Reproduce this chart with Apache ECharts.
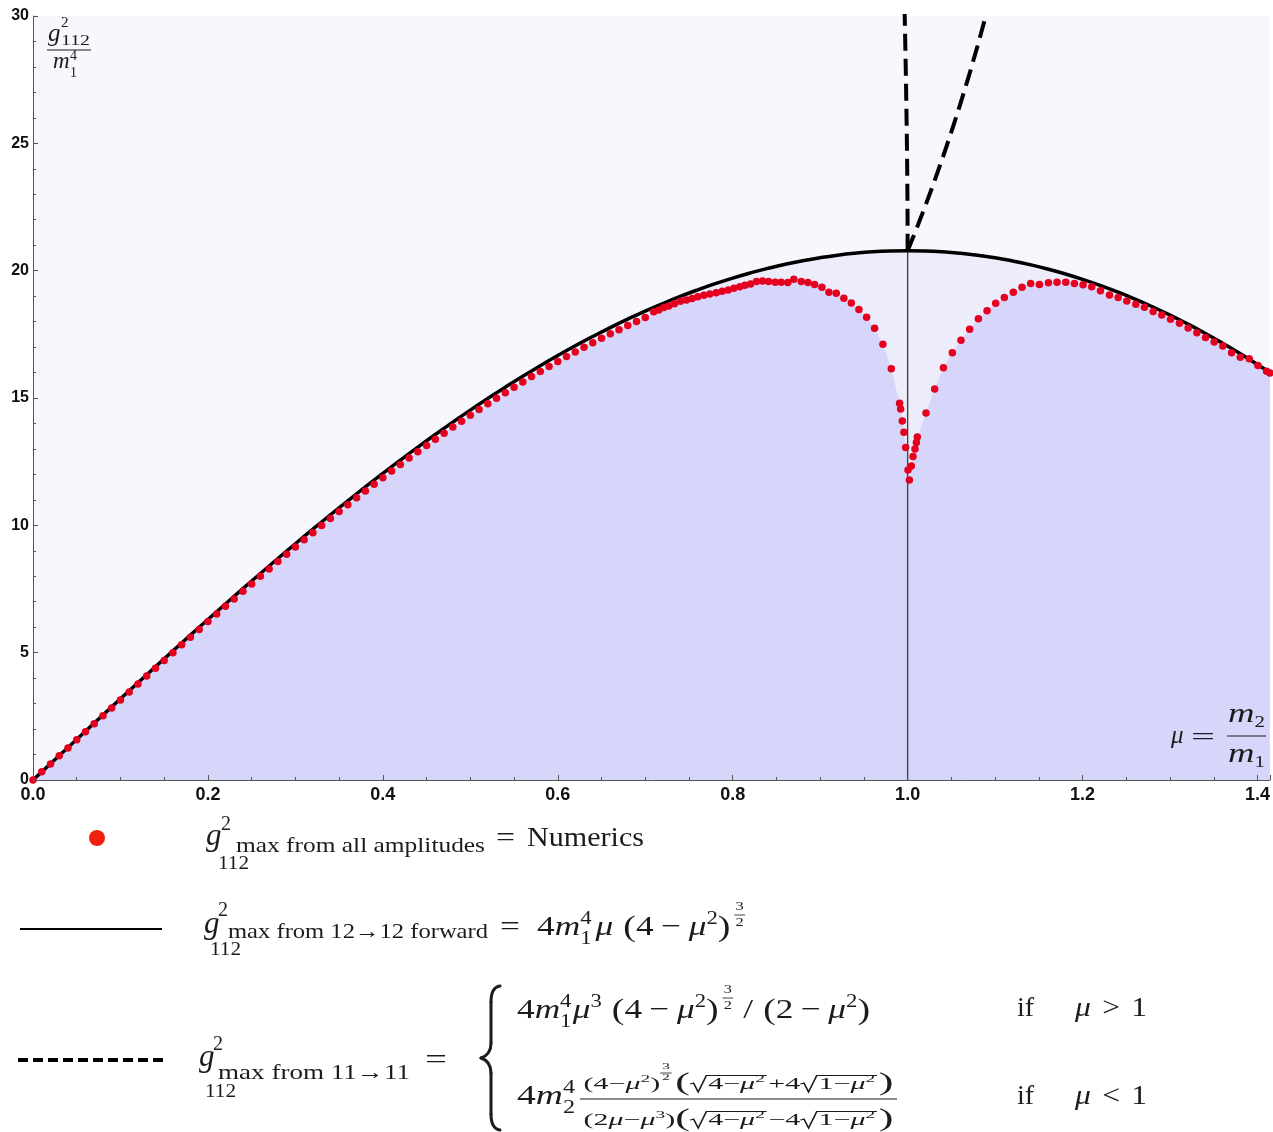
<!DOCTYPE html>
<html>
<head>
<meta charset="utf-8">
<script src="https://cdn.jsdelivr.net/npm/echarts@6/dist/echarts.min.js"></script>
<style>
  html, body { margin: 0; padding: 0; background: #ffffff; }
  #chart { width: 1273px; height: 1132px; }
</style>
</head>
<body>
<div id="chart"></div>
<script>
// ---- numerical bound: g^2_112 max from all amplitudes ----
const muNumerics = [
  0, 0.01, 0.02, 0.03, 0.04, 0.05, 0.06, 0.07, 0.08, 0.09,
  0.10, 0.11, 0.12, 0.13, 0.14, 0.15, 0.16, 0.17, 0.18, 0.19,
  0.20, 0.21, 0.22, 0.23, 0.24, 0.25, 0.26, 0.27, 0.28, 0.29,
  0.30, 0.31, 0.32, 0.33, 0.34, 0.35, 0.36, 0.37, 0.38, 0.39,
  0.40, 0.41, 0.42, 0.43, 0.44, 0.45, 0.46, 0.47, 0.48, 0.49,
  0.50, 0.51, 0.52, 0.53, 0.54, 0.55, 0.56, 0.57, 0.58, 0.59,
  0.60, 0.61, 0.62, 0.63, 0.64, 0.65, 0.66, 0.67, 0.68, 0.69,
  0.70, 0.7097, 0.7154, 0.7212, 0.7269, 0.7334, 0.7403, 0.7471, 0.7536, 0.7601,
  0.7670, 0.7738, 0.7811, 0.7880, 0.7948, 0.8013, 0.8081, 0.8140, 0.8204, 0.8272,
  0.8341, 0.8410, 0.8486, 0.8555, 0.8630, 0.8699, 0.8784, 0.8860, 0.8936, 0.9020,
  0.9100, 0.9184, 0.9271, 0.9356, 0.9443, 0.9531, 0.9622, 0.9717, 0.9813, 0.9908,
  0.9920, 0.9939, 0.9958, 0.9977, 1.0004, 1.0020, 1.0042, 1.0061, 1.0084, 1.0100,
  1.0111, 1.0210, 1.0309, 1.0409, 1.0511, 1.0610, 1.0709, 1.0809, 1.0908, 1.1007,
  1.1106, 1.1208, 1.1308, 1.1407, 1.1507, 1.1610, 1.1708, 1.1808, 1.1907, 1.2006,
  1.2105, 1.2205, 1.2308, 1.2407, 1.2506, 1.2609, 1.2708, 1.2807, 1.2906, 1.3006,
  1.3108, 1.3207, 1.3307, 1.3406, 1.3505, 1.3604, 1.3704, 1.3803, 1.3906, 1.4005,
  1.4104, 1.4142
];
const gNumerics = [
  0, 0.32, 0.63, 0.95, 1.26, 1.58, 1.89, 2.21, 2.52, 2.83,
  3.14, 3.46, 3.77, 4.08, 4.39, 4.69, 5.00, 5.31, 5.61, 5.91,
  6.22, 6.52, 6.82, 7.11, 7.41, 7.70, 8.00, 8.29, 8.58, 8.86,
  9.15, 9.43, 9.71, 9.99, 10.27, 10.54, 10.81, 11.08, 11.35, 11.61,
  11.87, 12.13, 12.39, 12.64, 12.89, 13.13, 13.38, 13.62, 13.86, 14.09,
  14.32, 14.55, 14.77, 14.99, 15.21, 15.42, 15.63, 15.84, 16.04, 16.24,
  16.43, 16.63, 16.81, 16.99, 17.17, 17.35, 17.52, 17.68, 17.85, 18.00,
  18.16, 18.39, 18.46, 18.55, 18.61, 18.70, 18.80, 18.85, 18.91, 18.98,
  19.03, 19.08, 19.13, 19.19, 19.24, 19.31, 19.37, 19.43, 19.48, 19.57,
  19.59, 19.57, 19.55, 19.55, 19.54, 19.66, 19.57, 19.54, 19.46, 19.35,
  19.15, 19.11, 18.92, 18.73, 18.48, 18.17, 17.74, 17.11, 16.15, 14.79,
  14.57, 14.10, 13.66, 13.06, 12.17, 11.78, 12.33, 12.70, 13.00, 13.25,
  13.47, 14.41, 15.35, 16.19, 16.78, 17.27, 17.70, 18.11, 18.43, 18.72,
  18.95, 19.15, 19.35, 19.50, 19.46, 19.53, 19.55, 19.55, 19.50, 19.45,
  19.37, 19.21, 19.04, 18.95, 18.81, 18.68, 18.56, 18.40, 18.26, 18.09,
  17.94, 17.75, 17.56, 17.38, 17.20, 17.04, 16.78, 16.60, 16.54, 16.28,
  16.05, 15.98
];

// ---- bound from 12 -> 12 forward scattering ----
const muForward = [
  0, 0.02, 0.04, 0.06, 0.08, 0.10, 0.12, 0.14, 0.16, 0.18,
  0.20, 0.22, 0.24, 0.26, 0.28, 0.30, 0.32, 0.34, 0.36, 0.38,
  0.40, 0.42, 0.44, 0.46, 0.48, 0.50, 0.52, 0.54, 0.56, 0.58,
  0.60, 0.62, 0.64, 0.66, 0.68, 0.70, 0.72, 0.74, 0.76, 0.78,
  0.80, 0.82, 0.84, 0.86, 0.88, 0.90, 0.92, 0.94, 0.96, 0.98,
  1.00, 1.02, 1.04, 1.06, 1.08, 1.10, 1.12, 1.14, 1.16, 1.18,
  1.20, 1.22, 1.24, 1.26, 1.28, 1.30, 1.32, 1.34, 1.36, 1.38,
  1.40, 1.41421
];
const gForward = [
  0, 0.640, 1.279, 1.917, 2.554, 3.188, 3.819, 4.447, 5.071, 5.690,
  6.304, 6.913, 7.515, 8.110, 8.698, 9.278, 9.849, 10.412, 10.965, 11.507,
  12.040, 12.561, 13.070, 13.567, 14.052, 14.524, 14.981, 15.425, 15.855, 16.268,
  16.667, 17.050, 17.416, 17.766, 18.098, 18.413, 18.709, 18.988, 19.247, 19.488,
  19.709, 19.910, 20.091, 20.252, 20.392, 20.511, 20.609, 20.685, 20.741, 20.774,
  20.785, 20.774, 20.740, 20.684, 20.606, 20.505, 20.381, 20.235, 20.067, 19.875,
  19.661, 19.424, 19.165, 18.884, 18.581, 18.257, 17.910, 17.543, 17.154, 16.746,
  16.317, 16.000
];

// ---- bound from 11 -> 11, the two branches (mu < 1 and mu > 1) ----
const muElasticBelow = [1.0, 0.9999, 0.9998, 0.9995, 0.999, 0.998, 0.997, 0.9965];
const gElasticBelow  = [20.785, 22.18, 22.78, 24.01, 25.47, 27.66, 29.47, 30.29];
const muElasticAbove = [1.00, 1.01, 1.02, 1.03, 1.04, 1.05, 1.06, 1.07, 1.08, 1.09, 1.10];
const gElasticAbove  = [20.785, 21.634, 22.523, 23.452, 24.426, 25.447, 26.519, 27.646, 28.832, 30.084, 31.406];

// mass-degenerate point mu = 1
const muDegenerate = [1.0, 1.0];
const gDegenerate  = [0, 20.785];

// axis ranges and ticks
const xRange = [0, 1.41421];
const xStep = 0.2;
const yRange = [0, 30];
const yStep = 5;

const zip = (xs, ys) => xs.map((x, i) => [x, ys[i]]);

// ---------- small math-typesetting helper for the annotations ----------
const SERIF = '"Liberation Serif", "DejaVu Serif", serif';
const INK = '#1b1b1b';
const TOP_Z = 50;
const mctx = document.createElement('canvas').getContext('2d');
const MID = 0.34;                       // em-middle to alphabetic baseline
function fontStr(s, it) { return (it ? 'italic ' : '') + s + 'px ' + SERIF; }
function textW(t, s, it) { mctx.font = fontStr(s, it); return mctx.measureText(t).width; }
function T(t, s, i, r) { return { t: t, s: s, i: !!i, r: r || 0 }; }

function textEl(x, base, t, s, it) {
  return {
    type: 'text', x: x, y: base - MID * s, silent: true, z: TOP_Z,
    style: {
      x: 0, y: 0, text: t, font: fontStr(s, it), fill: INK, textFill: INK,
      align: 'left', verticalAlign: 'middle', textAlign: 'left', textVerticalAlign: 'middle'
    }
  };
}

function lay(x, base, parts, out) {
  let cx = x;
  for (const p of parts) {
    if (typeof p === 'number') { cx += p; continue; }
    if (p.sq) {                              // radical with overline
      const s = p.s, h = s * 0.86, sw = s * 0.55;
      const x0 = cx;
      const end = lay(cx + sw + 1, base, p.sq, out);
      out.push({
        type: 'polyline', silent: true, z: TOP_Z,
        shape: { points: [[x0, base - h * 0.40], [x0 + sw * 0.22, base - h * 0.48],
                          [x0 + sw * 0.50, base + s * 0.12], [x0 + sw, base - h], [end + 1, base - h]] },
        style: { stroke: INK, fill: null, lineWidth: 1 }
      });
      cx = end + 2;
      continue;
    }
    if (p.st) {                              // stacked super/subscripts
      let w = 0;
      for (const [sub, r] of p.st) { w = Math.max(w, lay(cx, base - r, sub, out) - cx); }
      cx += w;
      continue;
    }
    if (p.fr) {                              // fraction
      const nw = lay(0, 0, p.fr[0], []), dw = lay(0, 0, p.fr[1], []);
      const pad = p.pad == null ? 2 : p.pad;
      const w = Math.max(nw, dw) + pad * 2;
      lay(cx + (w - nw) / 2, base - p.nr, p.fr[0], out);
      lay(cx + (w - dw) / 2, base + p.dr, p.fr[1], out);
      const by = base - p.by;
      out.push({ type: 'line', silent: true, z: TOP_Z, shape: { x1: cx, y1: by, x2: cx + w, y2: by },
                 style: { stroke: INK, lineWidth: p.lw || 1 } });
      cx += w;
      continue;
    }
    out.push(textEl(cx, base - p.r, p.t, p.s, p.i));
    cx += textW(p.t, p.s, p.i);
  }
  return cx;
}

function expr(x, base, parts, targetW) {
  const kids = [];
  const w = lay(0, base, parts, kids);
  return { type: 'group', x: x, y: 0, z: TOP_Z, scaleX: targetW ? targetW / w : 1, silent: true, children: kids };
}
function hline(x1, x2, y, w, dash, color) {
  return { type: 'line', silent: true, z: TOP_Z, shape: { x1: x1, y1: y, x2: x2, y2: y },
           style: { stroke: color || '#000', lineWidth: w, lineDash: dash || null } };
}
const threeHalves = (s, nr, by, dr) => ({ fr: [[T('3', s)], [T('2', s)]], nr: nr, by: by, dr: dr, pad: 1, lw: 0.8 });
const sqrtOf = (a, s) => ({ sq: [T(a, s), T('\u2212', s), T('\u03bc', s, true), T('2', Math.round(s * 0.65), false, s * 0.42)], s: s });

// ---------- annotation graphics ----------
const G = [];

// quantity on the vertical axis: g^2_112 / m_1^4
G.push(expr(48, 43, [T('g', 25, true)]));
G.push(expr(61, 28, [T('2', 15)]));
G.push(expr(61, 46, [T('112', 15)], 29));
G.push(hline(47, 91, 50, 1, null, INK));
G.push(expr(53, 70, [T('m', 23, true)]));
G.push(expr(70, 61, [T('4', 14)]));
G.push(expr(70, 78, [T('1', 14)]));

// horizontal variable: mu = m2 / m1
G.push(expr(1171, 745, [T('\u03bc', 25, true)]));
G.push(expr(1191, 747, [T('=', 25)], 24));
G.push(expr(1228, 724, [T('m', 28, true), T('2', 16, false, -4)], 37));
G.push(hline(1227, 1266, 736, 1, null, INK));
G.push(expr(1228, 764, [T('m', 28, true), T('1', 16, false, -4)], 37));

// legend row 1: numerics
G.push({ type: 'circle', silent: true, z: TOP_Z, shape: { cx: 97, cy: 838, r: 8 }, style: { fill: '#f0200f' } });
G.push(expr(206, 847, [T('g', 31, true)]));
G.push(expr(221, 832, [T('2', 20)]));
G.push(expr(218, 870, [T('112', 19)], 31));
G.push(expr(236, 854, [T('max from all amplitudes', 21)], 249));
G.push(expr(496, 848, [T('=', 28)], 19));
G.push(expr(527, 848, [T('Numerics', 28)], 117));

// legend row 2: 12 -> 12 forward
G.push(hline(20, 162, 929, 2));
G.push(expr(204, 935, [T('g', 31, true)]));
G.push(expr(218, 918, [T('2', 20)]));
G.push(expr(210, 956, [T('112', 19)], 31));
G.push(expr(228, 940, [T('max from 12\u219212 forward', 21)], 260));
G.push(expr(500, 937, [T('=', 28)], 20));
G.push(expr(537, 937, [
  T('4', 28), T('m', 28, true), { st: [[[T('4', 18)], 12], [[T('1', 18)], -8]] }, 3,
  T('\u03bc', 28, true), 8, T('(', 30, false, -1), T('4', 28), 6, T('\u2212', 28), 6,
  T('\u03bc', 28, true), T('2', 18, false, 12), T(')', 30, false, -1), 3, threeHalves(13, 26, 22, -10)
], 208));

// legend row 3: 11 -> 11, piecewise
G.push(hline(18, 163, 1060, 4, [10, 5]));
G.push(expr(199, 1068, [T('g', 31, true)]));
G.push(expr(213, 1052, [T('2', 20)]));
G.push(expr(205, 1098, [T('112', 19)], 31));
G.push(expr(218, 1081, [T('max from 11\u219211', 21)], 192));
G.push(expr(425, 1070, [T('=', 28)], 22));

// large brace
const braceStyle = { stroke: INK, lineWidth: 3, fill: null, lineCap: 'round' };
const braceSegs = [
  { type: 'bezierCurve', shape: { x1: 500, y1: 986, cpx1: 493, cpy1: 987, cpx2: 491, cpy2: 993, x2: 491, y2: 1002 } },
  { type: 'line', shape: { x1: 491, y1: 1002, x2: 491, y2: 1043 } },
  { type: 'bezierCurve', shape: { x1: 491, y1: 1043, cpx1: 491, cpy1: 1052, cpx2: 487, cpy2: 1056, x2: 481, y2: 1058 } },
  { type: 'bezierCurve', shape: { x1: 481, y1: 1058, cpx1: 487, cpy1: 1060, cpx2: 491, cpy2: 1064, x2: 491, y2: 1073 } },
  { type: 'line', shape: { x1: 491, y1: 1073, x2: 491, y2: 1114 } },
  { type: 'bezierCurve', shape: { x1: 491, y1: 1114, cpx1: 491, cpy1: 1123, cpx2: 493, cpy2: 1129, x2: 500, y2: 1130 } }
];
braceSegs.forEach(seg => G.push(Object.assign({ silent: true, z: TOP_Z, style: braceStyle }, seg)));

// case mu > 1
G.push(expr(517, 1020, [
  T('4', 28), T('m', 28, true), { st: [[[T('4', 18)], 12], [[T('1', 18)], -8]] }, 1,
  T('\u03bc', 28, true), T('3', 18, false, 12), 8, T('(', 30, false, -1), T('4', 28), 6, T('\u2212', 28), 6,
  T('\u03bc', 28, true), T('2', 18, false, 12), T(')', 30, false, -1), 3, threeHalves(13, 26, 22, -10), 8,
  T('/', 28), 8, T('(', 30, false, -1), T('2', 28), 6, T('\u2212', 28), 6, T('\u03bc', 28, true),
  T('2', 18, false, 12), T(')', 30, false, -1)
], 353));
G.push(expr(1017, 1018, [T('if', 28)]));
G.push(expr(1075, 1018, [T('\u03bc', 28, true), 10, T('>', 28), 10, T('1', 28)], 72));

// case mu < 1
const num = [
  T('(', 17), T('4', 17), T('\u2212', 17), T('\u03bc', 17, true), T('2', 11, false, 7), T(')', 17),
  threeHalves(9, 20, 17, -9), 2,
  T('(', 25, false, -2), sqrtOf('4', 17), T('+', 17), T('4', 17), sqrtOf('1', 17), T(')', 25, false, -2)
];
const den = [
  T('(', 17), T('2', 17), T('\u03bc', 17, true), T('\u2212', 17), T('\u03bc', 17, true), T('3', 11, false, 7), T(')', 17),
  T('(', 25, false, -2), sqrtOf('4', 17), T('\u2212', 17), T('4', 17), sqrtOf('1', 17), T(')', 25, false, -2)
];
G.push(expr(517, 1106, [T('4', 28), T('m', 28, true), { st: [[[T('4', 18)], 12], [[T('2', 18)], -8]] }], 58));
G.push(expr(580, 1106, [{ fr: [num, den], nr: 16, by: 7, dr: 20, pad: 2, lw: 1 }], 317));
G.push(expr(1017, 1106, [T('if', 28)]));
G.push(expr(1075, 1106, [T('\u03bc', 28, true), 10, T('<', 28), 10, T('1', 28)], 72));

// ---------- chart ----------
const chart = echarts.init(document.getElementById('chart'), null, { renderer: 'canvas' });
const axisInk = '#555555';
const labelBase = { fontFamily: '"Liberation Sans", Arial, sans-serif', fontWeight: 'bold', color: '#111111' };

chart.setOption({
  animation: false,
  backgroundColor: '#ffffff',
  grid: { left: 33, right: 3, top: 16, bottom: 352, show: true, backgroundColor: '#f7f7fe', borderWidth: 0 },
  xAxis: {
    type: 'value', min: xRange[0], max: xRange[1], interval: xStep, z: 10,
    axisLine: { show: true, onZero: false, lineStyle: { color: axisInk, width: 1 } },
    axisTick: { show: true, inside: true, length: 5, lineStyle: { color: axisInk } },
    minorTick: { show: true, splitNumber: 4, length: 3, lineStyle: { color: axisInk } },
    splitLine: { show: false },
    axisLabel: Object.assign({
      margin: 6, fontSize: 18,
      formatter: v => (Math.abs(v / xStep - Math.round(v / xStep)) < 1e-6 ? v.toFixed(1) : '')
    }, labelBase)
  },
  yAxis: {
    type: 'value', min: yRange[0], max: yRange[1], interval: yStep, z: 10,
    axisLine: { show: true, onZero: false, lineStyle: { color: axisInk, width: 1 } },
    axisTick: { show: true, inside: true, length: 5, lineStyle: { color: axisInk } },
    minorTick: { show: true, splitNumber: 5, length: 3, lineStyle: { color: axisInk } },
    splitLine: { show: false },
    axisLabel: Object.assign({ margin: 4, fontSize: 16 }, labelBase)
  },
  graphic: G,
  series: [
    { // region below the forward bound
      type: 'line', data: zip(muForward, gForward), smooth: true, showSymbol: false, silent: true, z: 1,
      lineStyle: { width: 0 }, areaStyle: { color: '#ececfb', opacity: 1 }
    },
    { // region below the numerical bound
      type: 'line', data: zip(muNumerics, gNumerics), showSymbol: false, silent: true, z: 2,
      lineStyle: { width: 0 }, areaStyle: { color: '#d6d6fb', opacity: 1 }
    },
    {
      type: 'line', data: zip(muDegenerate, gDegenerate), showSymbol: false, silent: true, z: 3,
      lineStyle: { color: '#444444', width: 1.4 }
    },
    {
      type: 'line', data: zip(muForward, gForward), smooth: true, showSymbol: false, silent: true, z: 4,
      lineStyle: { color: '#000000', width: 3.5 }
    },
    {
      type: 'line', data: zip(muElasticBelow, gElasticBelow), showSymbol: false, silent: true, z: 4,
      lineStyle: { color: '#000000', width: 4, type: [17, 8] }
    },
    {
      type: 'line', data: zip(muElasticAbove, gElasticAbove), showSymbol: false, silent: true, z: 4,
      lineStyle: { color: '#000000', width: 4, type: [17, 8] }
    },
    {
      type: 'scatter', data: zip(muNumerics, gNumerics), symbol: 'circle', symbolSize: 7.5, silent: true, z: 5,
      itemStyle: { color: '#e6001f', opacity: 1 }
    }
  ]
});
</script>
</body>
</html>
